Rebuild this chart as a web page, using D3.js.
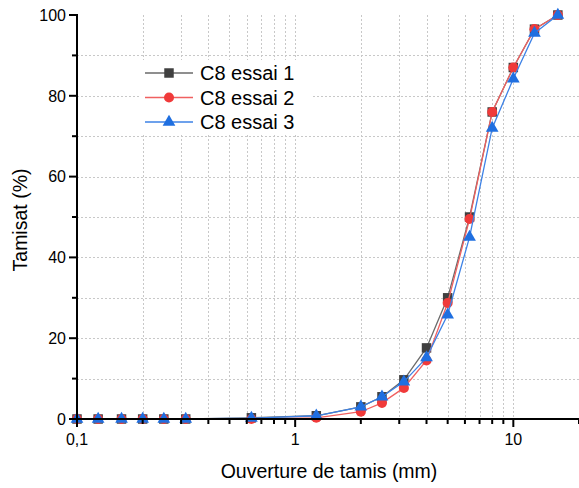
<!DOCTYPE html>
<html>
<head>
<meta charset="utf-8">
<script src="https://cdn.jsdelivr.net/npm/d3@7"></script>
<style>
  body { margin: 0; background: #fff; }
  svg text { font-family: Arial, "Liberation Sans", sans-serif; fill: #000; }
  .grid line { stroke: #c8c8c8; stroke-width: 1; stroke-dasharray: 2,2; }
  .axis path, .axis line { stroke: #000; }
</style>
</head>
<body>
<div class="graph"></div>
<script>
// sieve openings (mm)
var sieves = [0.1, 0.125, 0.16, 0.2, 0.25, 0.315, 0.63, 1.25, 2, 2.5, 3.15, 4, 5, 6.3, 8, 10, 12.5, 16];
// passing (%) per test
var essai1 = [0, 0, 0, 0, 0, 0, 0.3, 0.8, 3, 5.5, 9.7, 17.6, 30, 50, 76, 87, 96.5, 100];
var essai2 = [0, 0, 0, 0, 0, 0, 0, 0.3, 1.8, 4, 7.7, 14.5, 28.7, 49.5, 76, 87, 96.5, 100];
var essai3 = [0, 0, 0, 0, 0, 0, 0.2, 0.8, 3, 5.5, 9.2, 15.2, 25.8, 45, 72, 84.2, 95.5, 100];
var seriesNames = ["C8 essai 1", "C8 essai 2", "C8 essai 3"];
var yTicks = [0, 20, 40, 60, 80, 100];
var xTickLabels = {0.1: "0,1", 1: "1", 10: "10"};

var width = 579, height = 488;
var margin = { top: 15, left: 77, bottom: 69 };

var svg = d3.select(".graph").append("svg")
    .attr("width", width)
    .attr("height", height);

var x = d3.scaleLog().domain([0.1, 20]).range([margin.left, width]);
var y = d3.scaleLinear().domain([0, 100]).range([height - margin.bottom, margin.top]);

var majorX = [0.1, 1, 10];
var minorX = [];
[0.1, 1, 10].forEach(function(d) {
  for (var k = 2; k <= 9; k++) { if (d * k <= 20) minorX.push(d * k); }
});
var minorY = [10, 30, 50, 70, 90];

// grid
var grid = svg.append("g").attr("class", "grid");
grid.selectAll(".vg").data(majorX.concat(minorX).filter(function(d) { return d > 0.1; }))
  .enter().append("line")
    .attr("x1", function(d) { return Math.round(x(d)) + 0.5; })
    .attr("x2", function(d) { return Math.round(x(d)) + 0.5; })
    .attr("y1", y(100)).attr("y2", y(0));
grid.selectAll(".hg").data(d3.range(10, 100, 10))
  .enter().append("line")
    .attr("x1", x(0.1)).attr("x2", width)
    .attr("y1", function(d) { return Math.round(y(d)) + 0.5; })
    .attr("y2", function(d) { return Math.round(y(d)) + 0.5; });

// series
var series = [
  { name: seriesNames[0], values: essai1, color: "#404040", line: "#6a6a6a", shape: d3.symbolSquare, size: 90 },
  { name: seriesNames[1], values: essai2, color: "#f03a3a", line: "#f06060", shape: d3.symbolCircle, size: 80 },
  { name: seriesNames[2], values: essai3, color: "#1f6fe0", line: "#3d82e6", shape: d3.symbolTriangle, size: 70 }
];

var line = d3.line()
  .x(function(d) { return x(d[0]); })
  .y(function(d) { return y(d[1]); });

series.forEach(function(s) {
  var pts = sieves.map(function(v, i) { return [v, s.values[i]]; });
  var g = svg.append("g");
  g.append("path")
    .datum(pts)
    .attr("d", line)
    .attr("fill", "none")
    .attr("stroke", s.line)
    .attr("stroke-width", 1.3);
  g.selectAll("path.pt").data(pts).enter().append("path")
    .attr("class", "pt")
    .attr("transform", function(d) { return "translate(" + x(d[0]) + "," + y(d[1]) + ")"; })
    .attr("d", d3.symbol().type(s.shape).size(s.size))
    .attr("fill", s.color);
});

// X axis
var xAxis = svg.append("g")
  .attr("class", "axis")
  .attr("transform", "translate(0," + y(0) + ")");
xAxis.append("line").attr("x1", x(0.1) - 1).attr("x2", width).attr("stroke-width", 2);
xAxis.selectAll(".maj").data(majorX).enter().append("line")
  .attr("x1", function(d) { return x(d); }).attr("x2", function(d) { return x(d); })
  .attr("y1", 0).attr("y2", 8).attr("stroke-width", 2);
xAxis.selectAll(".min").data(minorX).enter().append("line")
  .attr("x1", function(d) { return x(d); }).attr("x2", function(d) { return x(d); })
  .attr("y1", 0).attr("y2", 5).attr("stroke-width", 2);
xAxis.selectAll("text").data(majorX).enter().append("text")
  .attr("x", function(d) { return x(d); })
  .attr("y", 26)
  .attr("text-anchor", "middle")
  .style("font-size", "16px")
  .text(function(d) { return xTickLabels[d]; });

// Y axis
var yAxis = svg.append("g")
  .attr("class", "axis")
  .attr("transform", "translate(" + x(0.1) + ",0)");
yAxis.append("line").attr("y1", y(100) - 1).attr("y2", y(0) + 1).attr("stroke-width", 2);
yAxis.selectAll(".maj").data(yTicks).enter().append("line")
  .attr("y1", function(d) { return y(d); }).attr("y2", function(d) { return y(d); })
  .attr("x1", 0).attr("x2", -8).attr("stroke-width", 2);
yAxis.selectAll(".min").data(minorY).enter().append("line")
  .attr("y1", function(d) { return y(d); }).attr("y2", function(d) { return y(d); })
  .attr("x1", 0).attr("x2", -5).attr("stroke-width", 2);
yAxis.selectAll("text").data(yTicks).enter().append("text")
  .attr("x", -11)
  .attr("y", function(d) { return y(d); })
  .attr("dy", "0.36em")
  .attr("text-anchor", "end")
  .style("font-size", "16px")
  .text(function(d) { return d; });

// axis titles
svg.append("text")
  .attr("x", 329)
  .attr("y", 478)
  .attr("text-anchor", "middle")
  .style("font-size", "19.5px")
  .text("Ouverture de tamis (mm)");
svg.append("text")
  .attr("transform", "translate(27,220) rotate(-90)")
  .attr("text-anchor", "middle")
  .style("font-size", "19.5px")
  .text("Tamisat (%)");

// legend
var legend = svg.append("g").attr("transform", "translate(140,60)");
legend.append("rect")
  .attr("width", 172).attr("height", 74)
  .attr("fill", "#fff");
series.forEach(function(s, i) {
  var ly = 13 + i * 24.5;
  legend.append("line")
    .attr("x1", 5).attr("x2", 53)
    .attr("y1", ly).attr("y2", ly)
    .attr("stroke", s.line).attr("stroke-width", 1.3);
  legend.append("path")
    .attr("transform", "translate(29," + ly + ")")
    .attr("d", d3.symbol().type(s.shape).size(s.size))
    .attr("fill", s.color);
  legend.append("text")
    .attr("x", 60).attr("y", ly)
    .attr("dy", "0.36em")
    .style("font-size", "20px")
    .text(s.name);
});
</script>
</body>
</html>
